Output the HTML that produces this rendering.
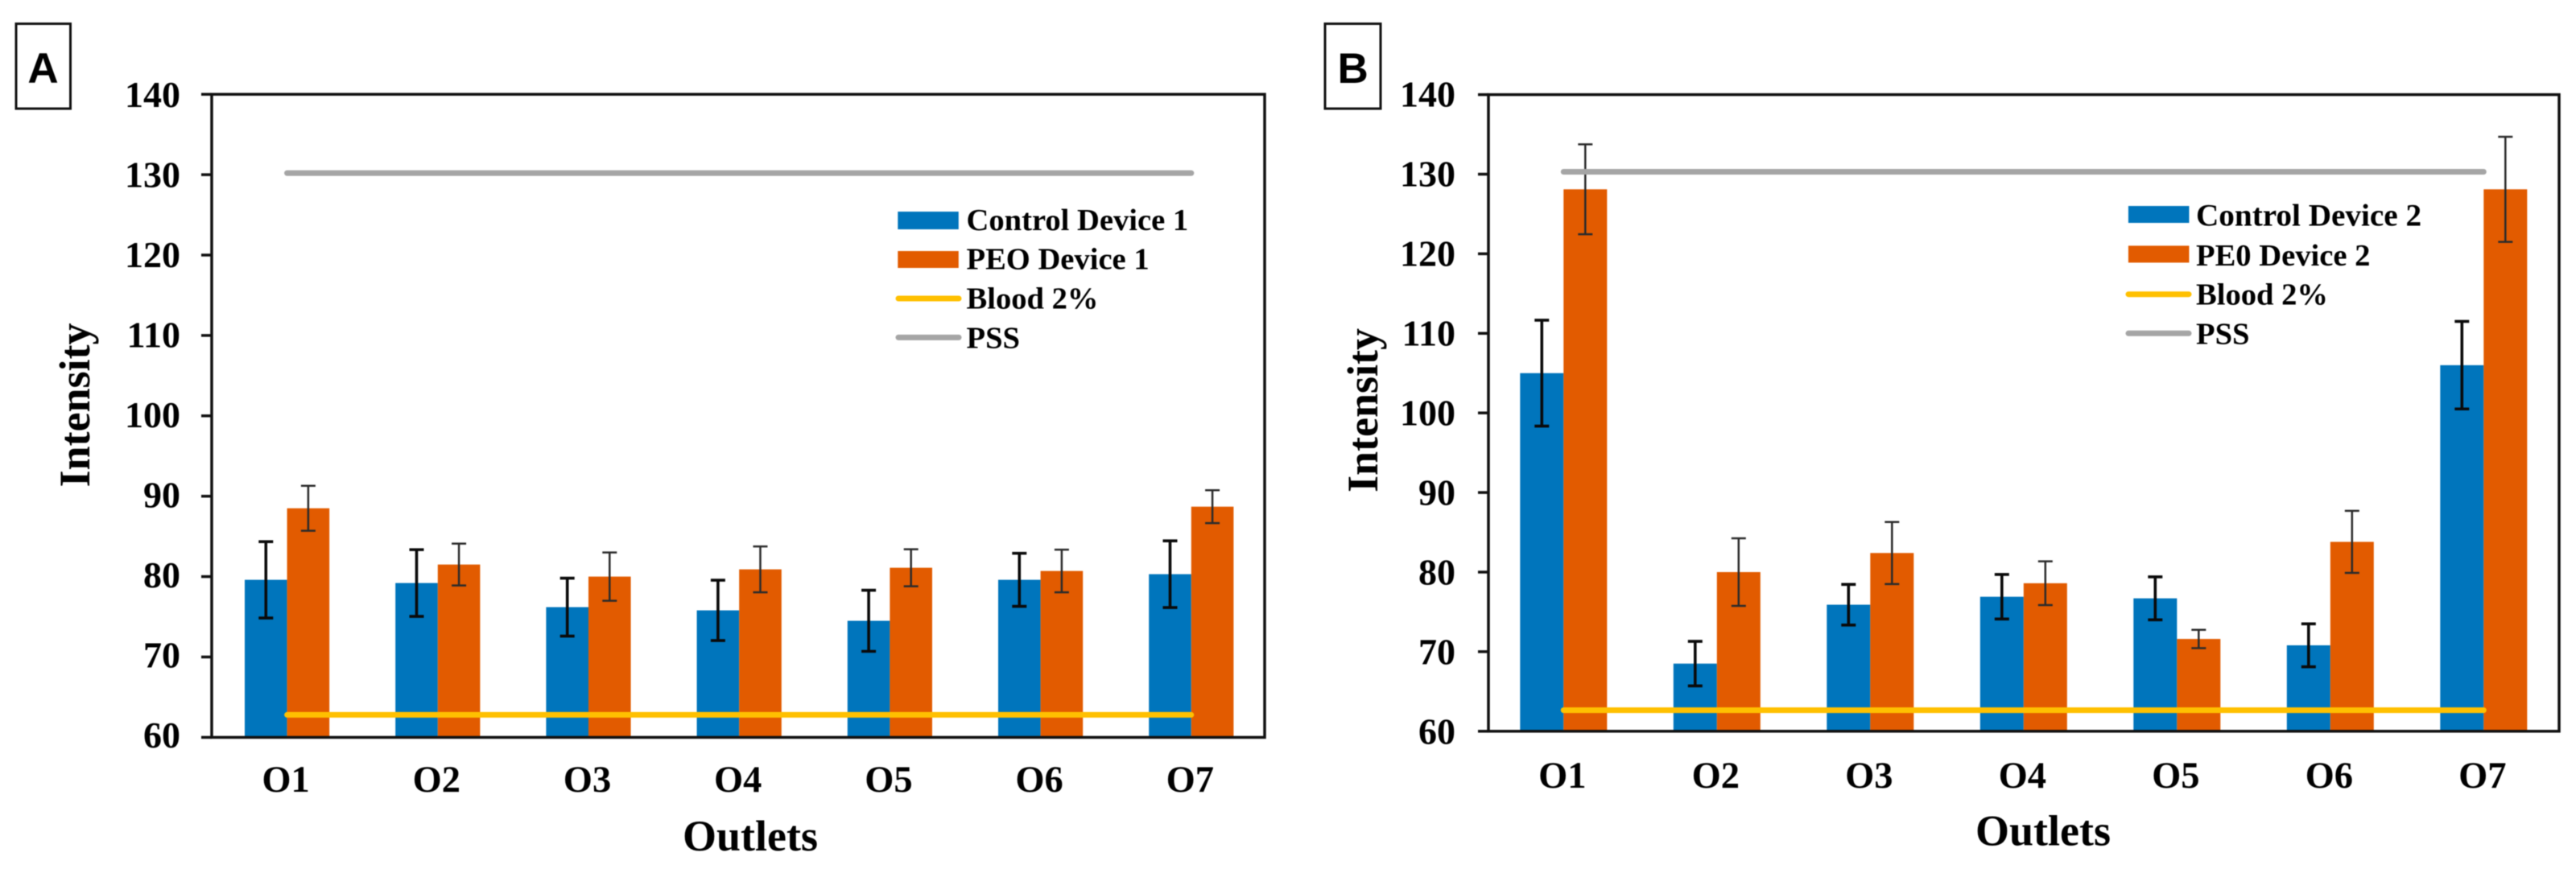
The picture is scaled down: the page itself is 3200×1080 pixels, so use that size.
<!DOCTYPE html>
<html lang="en">
<head>
<meta charset="utf-8">
<title>Outlet intensity, devices 1 and 2</title>
<style>
  html, body { margin: 0; padding: 0; background: #fff; }
  svg { display: block; filter: blur(0.6px); }
  text { font-family: "Liberation Serif", serif; font-weight: bold; fill: #000; }
  .panel-letter { font-family: "Liberation Sans", sans-serif; font-weight: bold; font-size: 53px; text-anchor: middle; }
  .axis-title { font-size: 54px; text-anchor: middle; }
  .tick-label { font-size: 46px; text-anchor: end; }
  .cat-label { font-size: 46.5px; text-anchor: middle; }
  .legend-label { font-size: 38.6px; }
</style>
</head>
<body>
<svg id="figure" xmlns="http://www.w3.org/2000/svg" width="3200" height="1080" viewBox="0 0 3200 1080">
  <rect x="0" y="0" width="3200" height="1080" fill="#ffffff"/>

  <g id="panel-a">
    <rect x="20" y="29.5" width="67.5" height="105.5" fill="none" stroke="#111" stroke-width="3"/>
    <text class="panel-letter" x="53.5" y="103">A</text>
    <text class="axis-title" transform="translate(111 503.5) rotate(-90)">Intensity</text>
    <text class="axis-title" x="932" y="1057">Outlets</text>
    <g>
      <rect x="1115.3" y="263" width="75.5" height="22" fill="#0075bc"/>
      <text class="legend-label" x="1200.5" y="285.8">Control Device 1</text>
      <rect x="1115.3" y="312" width="75.5" height="21" fill="#e25b00"/>
      <text class="legend-label" x="1200.5" y="334.7">PEO Device 1</text>
      <line x1="1116" y1="371" x2="1191" y2="371" stroke="#ffc000" stroke-width="7" stroke-linecap="round"/>
      <text class="legend-label" x="1200.5" y="383.3">Blood 2%</text>
      <line x1="1116" y1="419.4" x2="1191" y2="419.4" stroke="#a5a5a5" stroke-width="7" stroke-linecap="round"/>
      <text class="legend-label" x="1200.5" y="432.5">PSS</text>
    </g>
  </g>

  <g id="panel-b">
    <rect x="1646" y="29.5" width="69" height="105.5" fill="none" stroke="#111" stroke-width="3"/>
    <text class="panel-letter" x="1680.6" y="103">B</text>
    <text class="axis-title" transform="translate(1711 510) rotate(-90)">Intensity</text>
    <text class="axis-title" x="2538" y="1050.3">Outlets</text>
    <g>
      <rect x="2643.9" y="256" width="75.5" height="21" fill="#0075bc"/>
      <text class="legend-label" x="2728" y="280.6" style="font-size:39.2px">Control Device 2</text>
      <rect x="2643.9" y="305.4" width="75.5" height="21" fill="#e25b00"/>
      <text class="legend-label" x="2728" y="329.9">PE0 Device 2</text>
      <line x1="2644" y1="365.7" x2="2719" y2="365.7" stroke="#ffc000" stroke-width="7" stroke-linecap="round"/>
      <text class="legend-label" x="2728" y="378.4">Blood 2%</text>
      <line x1="2644" y1="414.3" x2="2719" y2="414.3" stroke="#a5a5a5" stroke-width="7" stroke-linecap="round"/>
      <text class="legend-label" x="2728" y="427.3">PSS</text>
    </g>
  </g>
</svg>

<script>
const categories = ['O1', 'O2', 'O3', 'O4', 'O5', 'O6', 'O7'];
const yTickLabels = [60, 70, 80, 90, 100, 110, 120, 130, 140];

const controlDevice1 = [79.6, 79.2, 76.2, 75.8, 74.5, 79.6, 80.3];
const controlDevice1Err = [4.75, 4.15, 3.6, 3.75, 3.8, 3.3, 4.15];
const peoDevice1 = [88.5, 81.5, 80.0, 80.9, 81.1, 80.7, 88.7];
const peoDevice1Err = [2.8, 2.6, 3.0, 2.85, 2.3, 2.65, 2.05];
const bloodLevel1 = 62.8;
const pssLevel1 = 130.2;

const controlDevice2 = [105.0, 68.5, 75.9, 76.9, 76.7, 70.8, 106.0];
const controlDevice2Err = [6.65, 2.8, 2.55, 2.8, 2.7, 2.7, 5.5];
const peoDevice2 = [128.1, 80.0, 82.4, 78.6, 71.6, 83.8, 128.1];
const peoDevice2Err = [5.65, 4.25, 3.9, 2.75, 1.15, 3.9, 6.6];
const bloodLevel2 = 62.65;
const pssLevel2 = 130.3;

const SVG_NS = 'http://www.w3.org/2000/svg';

function make(parent, tag, props, text) {
  const el = document.createElementNS(SVG_NS, tag);
  for (const key in props) el.setAttribute(key, props[key]);
  if (text !== undefined) el.textContent = text;
  parent.appendChild(el);
  return el;
}

function drawPanel(panelId, suffix, layout, control, controlErr, peo, peoErr, blood, pss) {
  const parent = document.getElementById(panelId);
  const yMin = yTickLabels[0];
  const yMax = yTickLabels[yTickLabels.length - 1];
  const xCenter = i => layout.firstCenter + i * layout.step;
  const yScale = v => layout.bottom - (v - yMin) * layout.unit;
  const barW = layout.barWidth;

  const drawBars = (values, offset, fill, seriesName) => {
    values.forEach((v, i) => {
      const top = yScale(v);
      const el = make(parent, 'rect', { x: xCenter(i) + offset, y: top, width: barW, height: layout.bottom - top, fill: fill });
      
      
    });
  };
  drawBars(control, -barW, '#0075bc', 'control');
  drawBars(peo, 0, '#e25b00', 'peo');

  const drawErrors = (values, errors, offset, width, color, seriesName) => {
    values.forEach((v, i) => {
      const cx = xCenter(i) + offset;
      const hi = yScale(v + errors[i]);
      const lo = yScale(v - errors[i]);
      const d = 'M' + cx + ' ' + hi + 'V' + lo +
                'M' + (cx - 9) + ' ' + hi + 'H' + (cx + 9) +
                'M' + (cx - 9) + ' ' + lo + 'H' + (cx + 9);
      const el = make(parent, 'path', { d: d, fill: 'none', stroke: color, 'stroke-width': width });
      
      
    });
  };
  drawErrors(control, controlErr, -barW / 2, 3.6, '#0a0a0a', 'control');
  drawErrors(peo, peoErr, barW / 2, 2.5, '#2b2b2b', 'peo');

  const drawLevel = (value, color, lineName) => {
    const el = make(parent, 'line', {
      x1: xCenter(0), x2: xCenter(categories.length - 1),
      y1: yScale(value), y2: yScale(value),
      stroke: color, 'stroke-width': 7, 'stroke-linecap': 'round'
    });
    
    
  };
  drawLevel(blood, '#ffc000', 'blood');
  drawLevel(pss, '#a5a5a5', 'pss');

  const frame = make(parent, 'rect', {
    x: layout.left, y: yScale(yMax),
    width: layout.right - layout.left,
    height: layout.bottom - yScale(yMax),
    fill: 'none', stroke: '#111', 'stroke-width': 3.5
  });
  
  

  yTickLabels.forEach(t => {
    const tick = make(parent, 'line', {
      x1: layout.left - 13, x2: layout.left, y1: yScale(t), y2: yScale(t),
      stroke: '#111', 'stroke-width': 3.5
    });
    
    

    const shift = layout.labelShiftBottom + (layout.labelShiftTop - layout.labelShiftBottom) * (t - yMin) / (yMax - yMin);
    const label = make(parent, 'text', { class: 'tick-label', x: layout.tickRight, y: yScale(t) + shift }, String(t));
    
    
  });

  categories.forEach((c, i) => {
    const label = make(parent, 'text', { class: 'cat-label', x: xCenter(i) - 1.5, y: layout.catBaseline }, c);
    
    
  });
}

drawPanel('panel-a', 'a',
  { left: 263, right: 1571, bottom: 916.4, unit: 9.99, firstCenter: 356.6, step: 187.2, barWidth: 52.6, tickRight: 224, catBaseline: 984, labelShiftTop: 15.7, labelShiftBottom: 12.8 },
  controlDevice1, controlDevice1Err, peoDevice1, peoDevice1Err, bloodLevel1, pssLevel1);

drawPanel('panel-b', 'b',
  { left: 1849, right: 3179, bottom: 908.8, unit: 9.89, firstCenter: 1942.3, step: 190.5, barWidth: 54, tickRight: 1808, catBaseline: 979, labelShiftTop: 15, labelShiftBottom: 15.5 },
  controlDevice2, controlDevice2Err, peoDevice2, peoDevice2Err, bloodLevel2, pssLevel2);
</script>
</body>
</html>
